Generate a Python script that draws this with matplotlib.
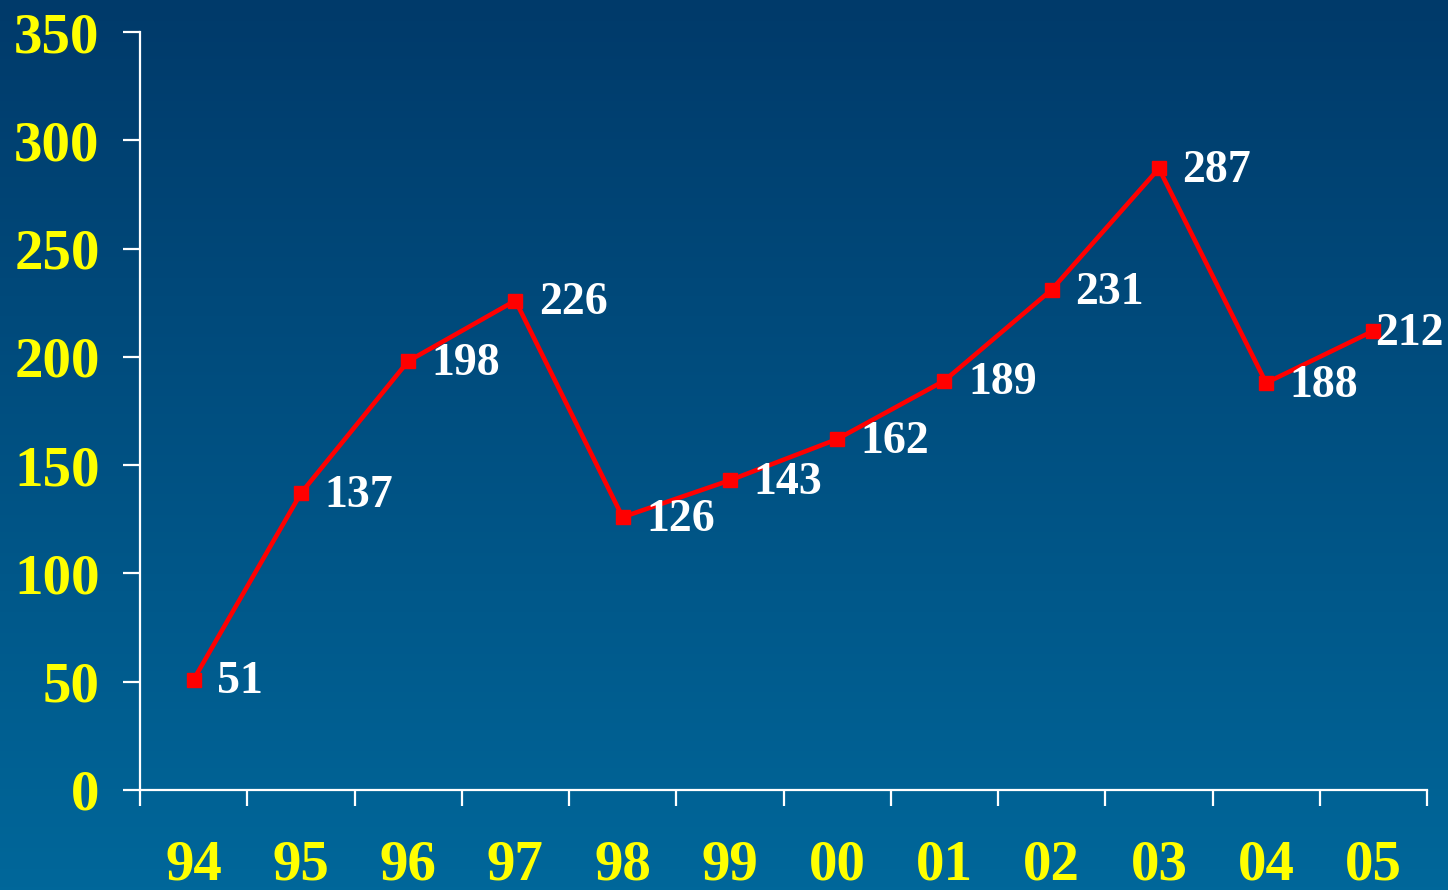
import numpy as np
from matplotlib import pyplot as plt

# --- data ---
years = ['94', '95', '96', '97', '98', '99', '00', '01', '02', '03', '04', '05']
values = [51, 137, 198, 226, 126, 143, 162, 189, 231, 287, 188, 212]
y_ticks = [0, 50, 100, 150, 200, 250, 300, 350]

FONT = 'Liberation Serif'
YELLOW = '#ffff00'

fig = plt.figure(figsize=(14.48, 8.9), dpi=100)

# background gradient
bg = fig.add_axes([0, 0, 1, 1], zorder=0)
top = np.array([0, 58, 106]) / 255
bottom = np.array([0, 103, 154]) / 255
t = np.linspace(0, 1, 256)[:, None]
grad = (top[None, :] * (1 - t) + bottom[None, :] * t)[:, None, :]
bg.imshow(grad, aspect='auto', extent=[0, 1, 0, 1])
bg.axis('off')

ax = fig.add_axes([0.0967, 0.1124, 0.8888, 0.8516], zorder=1)
ax.set_facecolor('none')

x = np.arange(len(years))
ax.plot(x, values, color='#ff0000', lw=3.3, marker='s', markersize=10, zorder=3)

for i, v in enumerate(values):
    dx = 1.5 if i == len(values) - 1 else 17
    ax.annotate(str(v), (i, v), xytext=(dx, -2), textcoords='offset points',
                ha='left', va='center', color='white', fontsize=33,
                fontweight='bold', family=FONT)

ax.set_xlim(-0.5, len(years) - 0.5)
ax.set_ylim(0, 350)
ax.set_yticks(y_ticks)
ax.set_yticklabels([str(v) for v in y_ticks])
ax.set_xticks(np.arange(len(years) + 1) - 0.5)
ax.set_xticklabels([])
ax.set_xticks(x, minor=True)
ax.set_xticklabels(years, minor=True)

for s in ['top', 'right']:
    ax.spines[s].set_visible(False)
for s in ['left', 'bottom']:
    ax.spines[s].set_color('white')
    ax.spines[s].set_linewidth(1.6)

ax.tick_params(axis='y', colors='white', length=12, width=1.6, pad=17,
               labelcolor=YELLOW, labelsize=41)
ax.tick_params(axis='x', which='major', colors='white', length=11.5, width=1.6)
ax.tick_params(axis='x', which='minor', length=0, pad=36,
               labelcolor=YELLOW, labelsize=41)
for lab in ax.get_yticklabels() + ax.get_xticklabels(minor=True):
    lab.set_family(FONT)
    lab.set_fontweight('bold')

plt.savefig('out.png', dpi=100)
